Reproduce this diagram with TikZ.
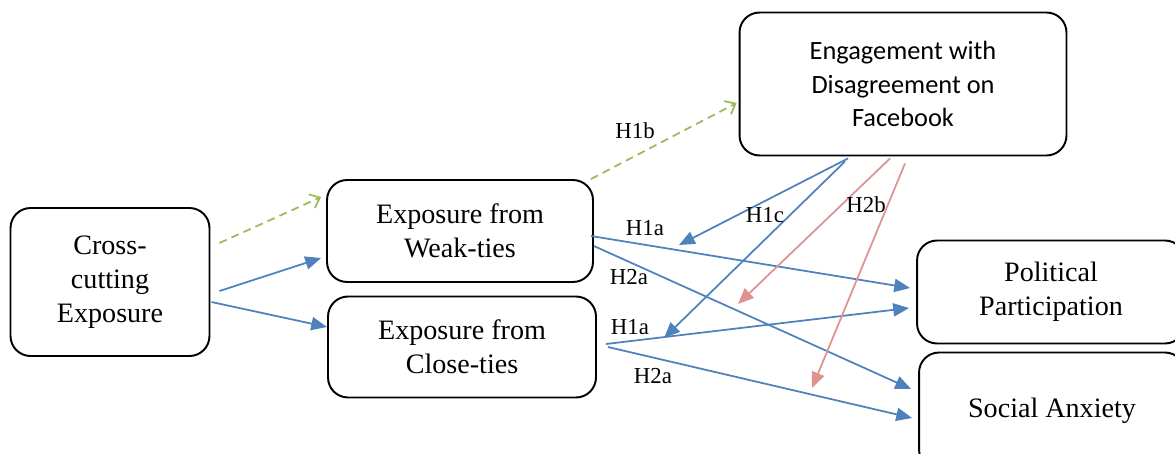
\documentclass[tikz,border=0pt]{standalone}
\usepackage{fontspec}
\setmainfont{Liberation Serif}
\newfontfamily\calibri{Carlito}
\usetikzlibrary{arrows.meta}
\definecolor{linkblue}{RGB}{79,129,189}
\definecolor{linkgreen}{RGB}{155,187,89}
\definecolor{linkred}{RGB}{222,146,146}

\begin{document}
\begin{tikzpicture}[x = 0.02cm, y = -0.02cm, line width = 1pt,
                        box/.style = {draw, rounded corners = 0.4cm, line width = 1.1pt, align = center,
                                      font = \fontsize{16}{19.5}\selectfont},
                        hyp/.style = {font = \fontsize{13}{15}\selectfont, inner sep = 0pt},
                        bluelink/.style = {draw = linkblue, -{Triangle[length = 9pt, width = 7.5pt]}},
                        redlink/.style = {draw = linkred, -{Triangle[length = 9pt, width = 7.5pt]}},
                        greenlink/.style = {draw = linkgreen, dash pattern = on 4.5pt off 3pt,
                                            -{Straight Barb[length = 5pt, width = 8.5pt]}}]
      \useasboundingbox (0, 0) rectangle (1175, 453);
      \node [box, minimum width = 3.98cm, minimum height = 2.96cm] (cross) at (110, 282){Cross-\\cutting\\Exposure};
      \node [box, minimum width = 5.32cm, minimum height = 2.04cm] (weak) at (460, 231){Exposure from\\Weak-ties};
      \node [box, minimum width = 5.36cm, minimum height = 2.02cm] (close) at (462, 347){Exposure from\\Close-ties};
      \node [box, minimum width = 6.54cm, minimum height = 2.86cm, font = \calibri\fontsize{15}{19}\selectfont]
            (engage) at (903, 84){Engagement with\\Disagreement on\\Facebook};
      \node [box, minimum width = 5.36cm, minimum height = 2.06cm] (polit) at (1051, 292){Political\\Participation};
      \node [box, minimum width = 5.32cm, minimum height = 2.34cm] (social) at (1052, 411){Social Anxiety};
      \coordinate (modweak) at (679, 245);
      \coordinate (modclose) at (664, 338);
      \coordinate (modpolit) at (738, 304);
      \coordinate (modsocial) at (812, 388);
      \draw [greenlink] ([shift = {(9, -39)}]cross.east) -- ([shift = {(-5, -34)}]weak.west);
      \draw [bluelink] ([shift = {(9, 9)}]cross.east) -- ([shift = {(-5, 27)}]weak.west);
      \draw [bluelink] ([shift = {(1, 20)}]cross.east) -- ([shift = {(0, -20)}]close.west);
      \draw [greenlink] ([shift = {(-3, 0)}]weak.north east) -- ([shift = {(-2, 19)}]engage.west);
      \draw [bluelink] ([shift = {(-3, 5)}]weak.east) -- ([shift = {(-6, -4)}]polit.west);
      \draw [bluelink] ([shift = {(0, 15)}]weak.east) -- ([shift = {(-7, -22)}]social.west);
      \draw [bluelink] ([shift = {(9, -3)}]close.east) -- ([shift = {(-7, 16)}]polit.west);
      \draw [bluelink] ([shift = {(11, 0)}]close.east) -- ([shift = {(-6, 7)}]social.west);
      \draw [bluelink] ([shift = {(-55, 2)}]engage.south) -- (modweak);
      \draw [bluelink] ([shift = {(-58, 5)}]engage.south) -- (modclose);
      \draw [redlink] ([shift = {(-13, 2)}]engage.south) -- (modpolit);
      \draw [redlink] ([shift = {(2, 7)}]engage.south) -- (modsocial);
      \node [hyp] (h1b) at (635, 131){H1b};
      \node [hyp] (h1aweak) at (645, 228){H1a};
      \node [hyp] (h2aweak) at (629, 277){H2a};
      \node [hyp] (h1c) at (765, 215){H1c};
      \node [hyp] (h2b) at (866, 205){H2b};
      \node [hyp] (h1aclose) at (630, 327){H1a};
      \node [hyp] (h2aclose) at (653, 376){H2a};
    \end{tikzpicture}
\end{document}
